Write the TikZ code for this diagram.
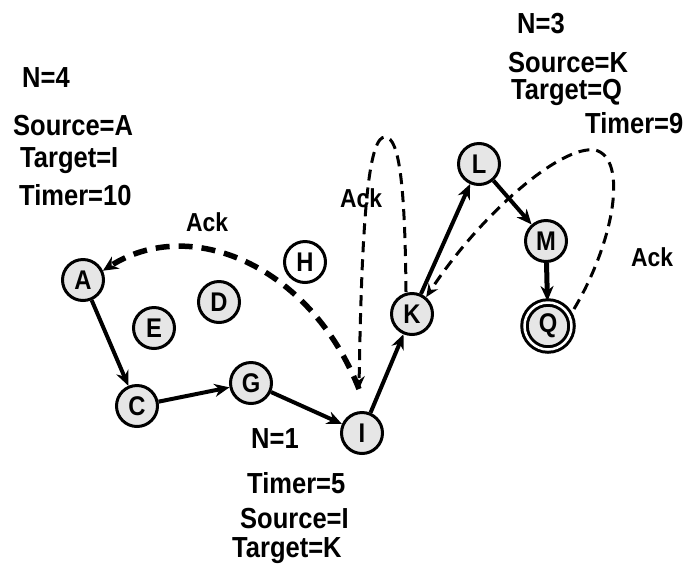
\documentclass[tikz,border=0pt]{standalone}
\usepackage{fontspec}
\newfontfamily\labfont[FakeStretch=0.88]{Liberation Sans}
\usetikzlibrary{arrows.meta}
\definecolor{nodegray}{HTML}{E6E6E6}
\tikzset{
  x=1pt,y=-1pt,
  vtx/.style={circle,draw=black,line width=3pt,fill=nodegray,minimum size=41pt,inner sep=0pt,font=\labfont\bfseries\fontsize{27}{30}\selectfont},
  vtxw/.style={vtx,fill=white},
  lab/.style={font=\labfont\bfseries\fontsize{29}{32}\selectfont,inner sep=0pt,anchor=base west},
  acklab/.style={font=\labfont\bfseries\fontsize{26}{28}\selectfont,inner sep=0pt},
  hop/.style={line width=4pt,-{Stealth[length=15pt,width=13pt]}},
  ackthick/.style={line width=5.5pt,dash pattern=on 14pt off 9pt,-{Stealth[length=15pt,width=14pt]}},
  ackthin/.style={line width=3pt,dash pattern=on 11pt off 7pt,-{Stealth[length=13pt,width=11pt]}}
}
\begin{document}
\begin{tikzpicture}
\useasboundingbox (0,0) rectangle (684,571);
% nodes
\node[vtx] (A) at (83,280) {A};
\node[vtx] (E) at (154,328) {E};
\node[vtx] (D) at (219,302) {D};
\node[vtxw] (H) at (305,262) {H};
\node[vtx] (C) at (137,406) {C};
\node[vtx] (G) at (251,383) {G};
\node[vtx] (I) at (362,433) {I};
\node[vtx] (K) at (412,314) {K};
\node[vtx] (L) at (479,164) {L};
\node[vtx] (M) at (546,241) {M};
\node[vtx,double=white,double distance=2.5pt,minimum size=47pt] (Q) at (548,326) {Q};
% solid hops
\draw[hop] (A) -- (C);
\draw[hop] (C) -- (G);
\draw[hop] (G) -- (I);
\draw[hop] (I) -- (K);
\draw[hop] (K) -- (L);
\draw[hop] (L) -- (M);
\draw[hop,line width=5pt] (M) -- (Q);
% ack paths
\coordinate (iA) at (359,389);
\coordinate (kTop) at (406,292);
\coordinate (peakK) at (385,137);
\coordinate (qStart) at (574,309);
\coordinate (peakQ) at (595,150);
\draw[ackthick] (iA) .. controls (310,265) and (190,215) .. (A.25);
\draw[ackthin] (kTop) .. controls (405,190) and (400,137) .. (peakK) .. controls (370,137) and (362,200) .. (iA);
\draw[ackthin] (qStart) .. controls (615,240) and (628,158) .. (peakQ) .. controls (560,145) and (480,215) .. (K.50);
% labels
\node[acklab] (ack1) at (207,222) {Ack};
\node[acklab] (ack2) at (361,198) {Ack};
\node[acklab] (ack3) at (652,257) {Ack};
\node[lab] (n4) at (22,87) {N=4};
\node[lab] (s4) at (13,135) {Source=A};
\node[lab] (t4) at (20,167) {Target=I};
\node[lab] (r4) at (19,205) {Timer=10};
\node[lab] (n3) at (517,33) {N=3};
\node[lab] (s3) at (508,72) {Source=K};
\node[lab] (t3) at (511,99) {Target=Q};
\node[lab] (r3) at (585,133) {Timer=9};
\node[lab] (n1) at (251,448) {N=1};
\node[lab] (r1) at (247,493) {Timer=5};
\node[lab] (s1) at (240,528) {Source=I};
\node[lab] (t1) at (232,557) {Target=K};
\end{tikzpicture}
\end{document}
